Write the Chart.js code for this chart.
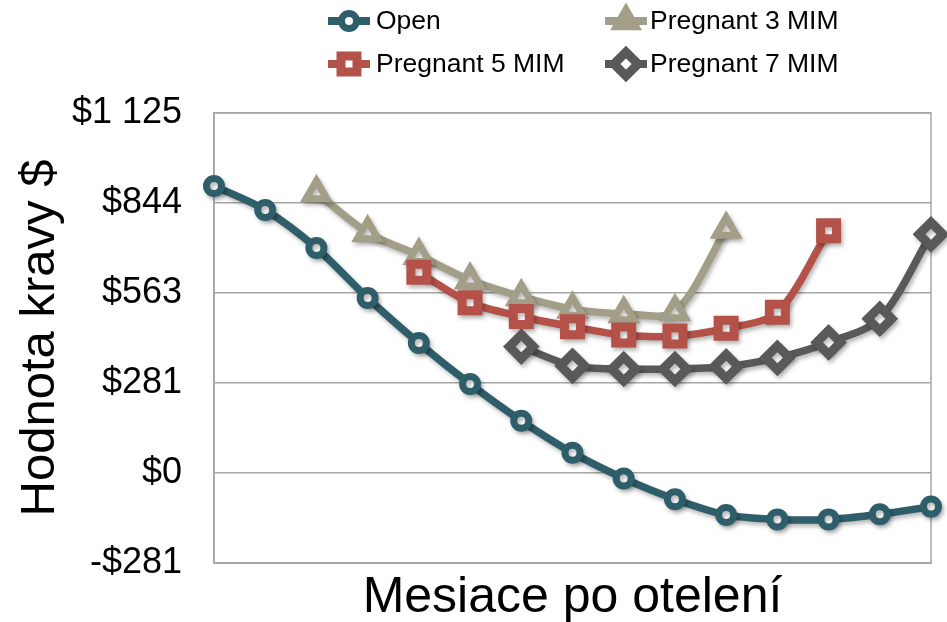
<!DOCTYPE html>
<html>
<head>
<meta charset="utf-8">
<script src="https://cdn.jsdelivr.net/npm/chart.js@4/dist/chart.umd.min.js"></script>
<style>
  html, body { margin: 0; padding: 0; background: #ffffff; }
  #wrap { width: 947px; height: 622px; position: relative; }
</style>
</head>
<body>
<div id="wrap"><canvas id="c"></canvas></div>
<script>
// ---- data ----
const categories = ['1','2','3','4','5','6','7','8','9','10','11','12','13','14','15'];
const seriesNames = ['Open', 'Pregnant 3 MIM', 'Pregnant 5 MIM', 'Pregnant 7 MIM'];
const openValues      = [897, 822, 703, 547, 406, 278, 163, 63, -17, -82, -131, -145, -145, -129, -105];
const pregnant3Values = [null, null, 876, 751, 680, 603, 551, 512, 498, 504, 762, null, null, null, null];
const pregnant5Values = [null, null, null, null, 627, 532, 489, 457, 431, 428, 452, 502, 757, null, null];
const pregnant7Values = [null, null, null, null, null, null, 395, 335, 325, 325, 333, 360, 408, 482, 746];
const yTickLabels = ['-$281', '$0', '$281', '$563', '$844', '$1 125'];
const yMin = -281.25, yMax = 1125, yStep = 281.25;
const xTitle = 'Mesiace po otelení';
const yTitle = 'Hodnota kravy $';

const FONT = '"Liberation Sans", Arial, Helvetica, sans-serif';
const colors = ['#2F5E6B', '#A39E87', '#B4524A', '#595959'];
const styles = [
  { pointStyle: 'circle',  radius: 7.5, bw: 7 },
  { pointStyle: 'triangle', radius: 12, bw: 7 },
  { pointStyle: 'rect',    radius: 11.3, bw: 9 },
  { pointStyle: 'rectRot', radius: 12, bw: 9 }
];
const allValues = [openValues, pregnant3Values, pregnant5Values, pregnant7Values];

const datasets = allValues.map((vals, i) => ({
  label: seriesNames[i],
  data: vals,
  borderColor: colors[i],
  backgroundColor: colors[i],
  borderWidth: 7.5,
  tension: 0.3,
  pointStyle: styles[i].pointStyle,
  pointRadius: styles[i].radius,
  pointHoverRadius: styles[i].radius,
  pointBorderWidth: styles[i].bw,
  pointBorderColor: colors[i],
  pointBackgroundColor: '#ffffff',
  clip: false,
  order: 3 - i
}));

const shadowPlugin = {
  id: 'shadowPlugin',
  beforeDatasetDraw(chart) {
    const ctx = chart.ctx;
    ctx.save();
    ctx.shadowColor = 'rgba(0,0,0,0.28)';
    ctx.shadowBlur = 4;
    ctx.shadowOffsetX = 2;
    ctx.shadowOffsetY = 3;
  },
  afterDatasetDraw(chart) { chart.ctx.restore(); }
};

const framePlugin = {
  id: 'framePlugin',
  beforeDatasetsDraw(chart) {
    const a = chart.chartArea, ctx = chart.ctx;
    ctx.save();
    ctx.strokeStyle = '#A6A6A6';
    ctx.lineWidth = 1.5;
    ctx.strokeRect(a.left, a.top, a.right - a.left, a.bottom - a.top);
    ctx.restore();
  }
};

const legendPos = [
  { mx: 349, tx: 376, y: 21 },
  { mx: 626, tx: 650, y: 21 },
  { mx: 349, tx: 376, y: 64 },
  { mx: 626, tx: 650, y: 64 }
];
const customLegend = {
  id: 'customLegend',
  afterDraw(chart) {
    const ctx = chart.ctx;
    chart.data.datasets.forEach((ds, i) => {
      const p = legendPos[i];
      ctx.save();
      ctx.strokeStyle = ds.borderColor;
      ctx.lineWidth = 8;
      ctx.beginPath();
      ctx.moveTo(p.mx - 21, p.y);
      ctx.lineTo(p.mx + 21, p.y);
      ctx.stroke();
      ctx.fillStyle = (i === 1) ? ds.borderColor : '#ffffff';
      ctx.strokeStyle = ds.borderColor;
      ctx.lineWidth = ds.pointBorderWidth;
      Chart.helpers.drawPoint(ctx, {
        pointStyle: ds.pointStyle,
        radius: ds.pointRadius * (i === 1 ? 0.95 : 1),
        borderWidth: ds.pointBorderWidth,
        rotation: 0
      }, p.mx, p.y);
      ctx.fillStyle = '#000000';
      ctx.font = '26.5px ' + FONT;
      ctx.textBaseline = 'middle';
      ctx.textAlign = 'left';
      ctx.fillText(ds.label, p.tx, p.y + 1);
      ctx.restore();
    });
  }
};

new Chart(document.getElementById('c'), {
  type: 'line',
  data: { labels: categories, datasets: datasets },
  options: {
    responsive: true,
    maintainAspectRatio: false,
    animation: false,
    events: [],
    layout: { autoPadding: false, padding: { left: 11, right: 16, top: 113, bottom: 0 } },
    plugins: {
      legend: { display: false },
      tooltip: { enabled: false },
      title: { display: false }
    },
    scales: {
      x: {
        type: 'category',
        offset: false,
        grid: { display: false, drawTicks: false },
        border: { display: true, color: '#A6A6A6', width: 1.5 },
        ticks: { display: false },
        title: {
          display: true, text: xTitle, color: '#000000',
          font: { family: FONT, size: 50, lineHeight: 0.95 }, padding: { top: 0, bottom: 0 }
        },
        afterFit(s) { s.height = 59; }
      },
      y: {
        type: 'linear',
        min: yMin, max: yMax,
        grid: { color: '#A6A6A6', lineWidth: 1.5, drawTicks: false },
        border: { display: true, color: '#A6A6A6', width: 1.5 },
        ticks: {
          stepSize: yStep,
          padding: 32,
          color: '#000000',
          font: { family: FONT, size: 36 },
          callback: (v, idx) => yTickLabels[idx]
        },
        title: {
          display: true, text: yTitle, color: '#000000',
          font: { family: FONT, size: 49 }, padding: { top: 0, bottom: 0 }
        },
        afterFit(s) { s.width = 203; }
      }
    }
  },
  plugins: [framePlugin, shadowPlugin, customLegend]
});
</script>
</body>
</html>
